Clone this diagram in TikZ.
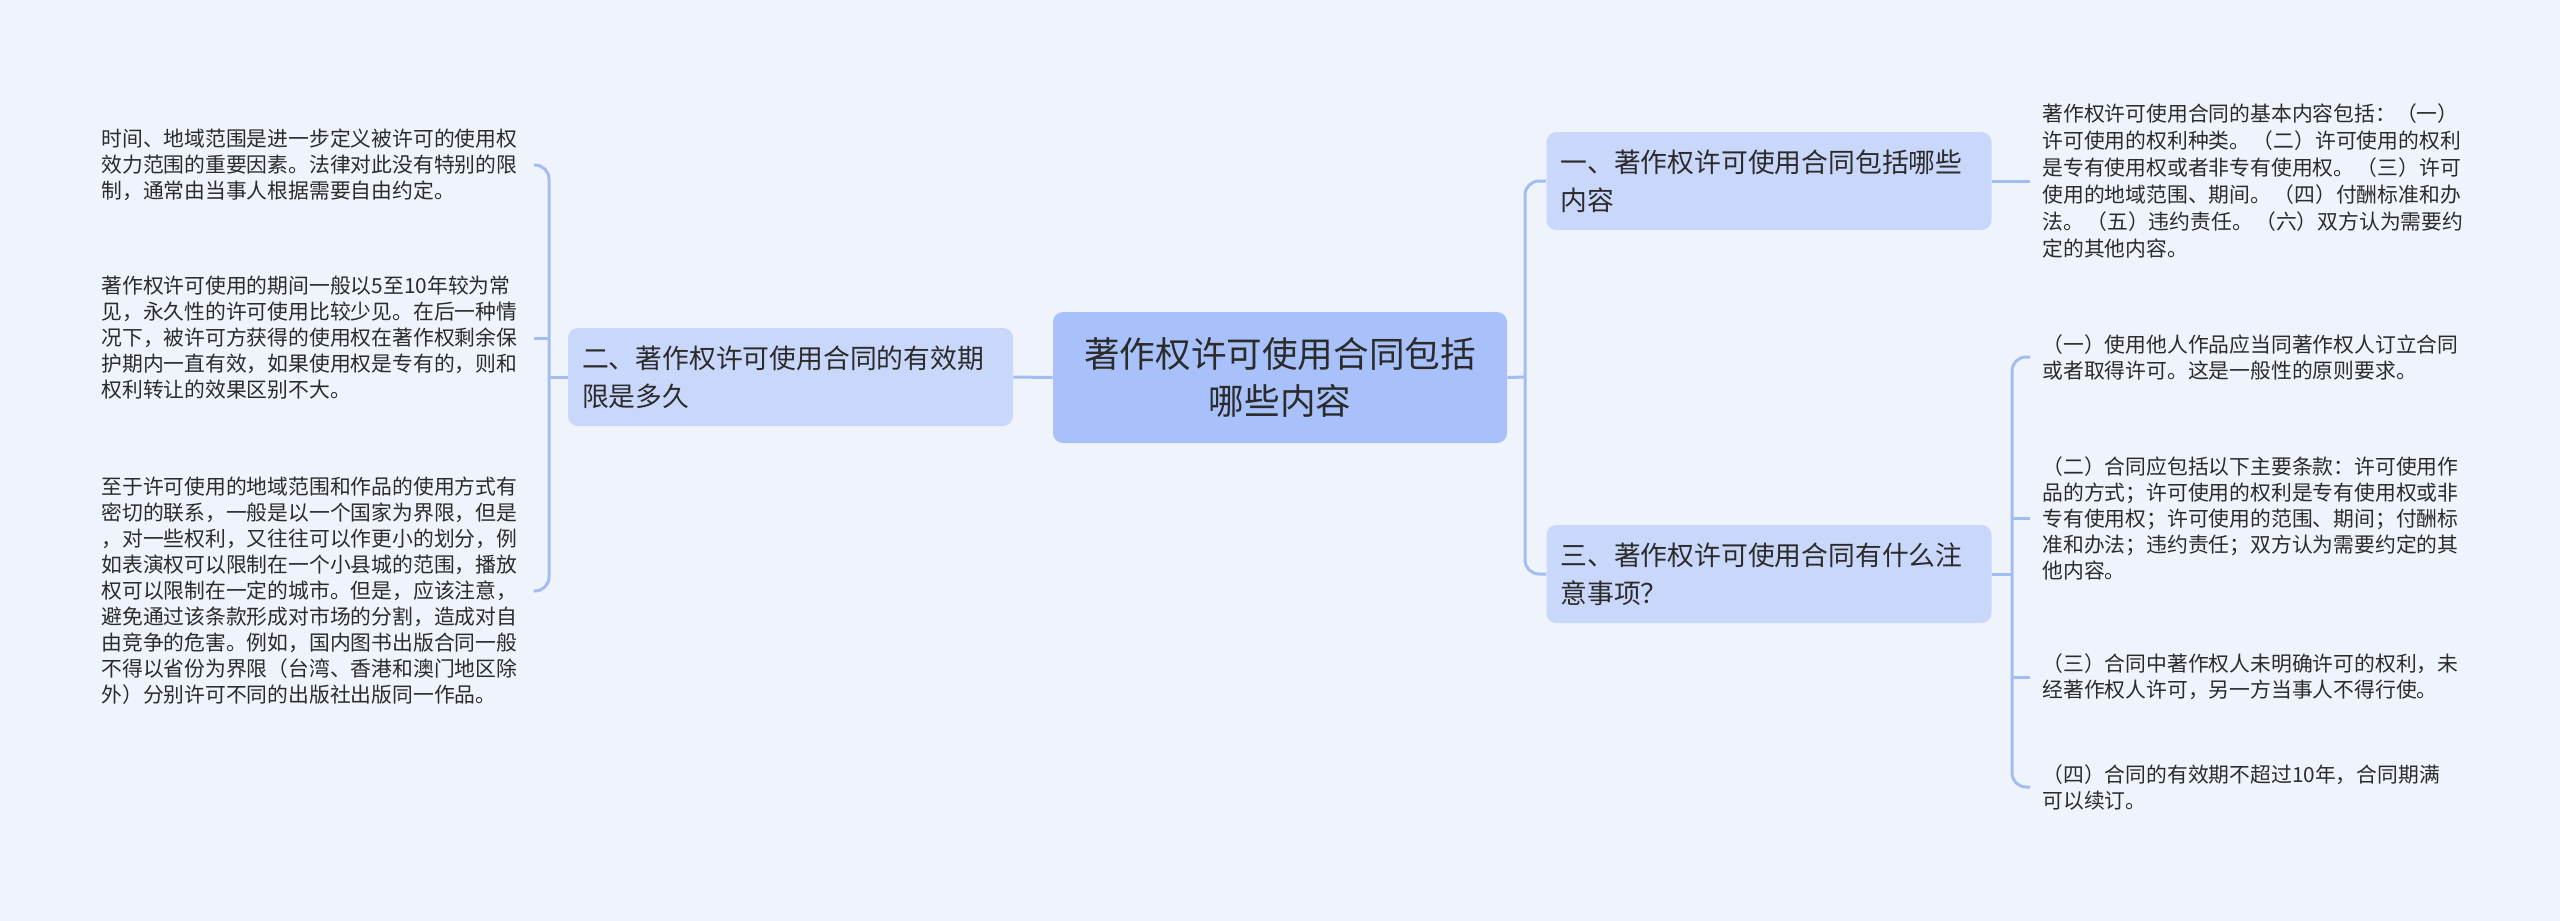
\documentclass[tikz,border=0pt]{standalone}
\usepackage{fontspec}
\setmainfont{Noto Sans CJK SC}
\definecolor{bg}{HTML}{EFF3FC}
\definecolor{cfill}{HTML}{A8C1FA}
\definecolor{bfill}{HTML}{C9D8FA}
\definecolor{lnk}{HTML}{A3BCF2}
\definecolor{txt}{HTML}{2B2B2B}
\newcommand{\gp}{\kern1.2pt}
\tikzset{
  centerbox/.style={fill=cfill, rounded corners=5pt, minimum width=227pt, minimum height=65.5pt,
    align=center, inner sep=0pt, text=txt, font=\fontsize{17.8}{23.5}\selectfont},
  branchbox/.style={fill=bfill, rounded corners=5pt, text width=208.5pt, inner xsep=7pt, inner ysep=0pt,
    minimum height=49pt, align=left, text=txt, font=\fontsize{13.4}{19}\selectfont},
  leftleaf/.style={anchor=west, text width=208pt, inner xsep=8pt, inner ysep=0pt, align=left,
    text=txt, font=\fontsize{10.4}{13}\selectfont},
  rightleaf/.style={anchor=west, text width=240pt, inner xsep=6pt, inner ysep=0pt, align=left,
    text=txt, font=\fontsize{10.4}{13}\selectfont},
  conn/.style={draw=lnk, line width=1.5pt},
  bus/.style={conn, rounded corners=7pt}
}
\begin{document}
\begin{tikzpicture}[x=0.5pt,y=-0.5pt]
\fill[bg] (0,0) rectangle (2560,921);
\useasboundingbox (0,0) rectangle (2560,921);

\node[centerbox] (c) at (1280,377.5) {著作权许可使用合同包括\\哪些内容};
\node[branchbox] (b2) at (790.5,377) {二、著作权许可使用合同的有效期\\限是多久};
\node[branchbox] (b1) at (1769,181) {一、著作权许可使用合同包括哪些\\内容};
\node[branchbox] (b3) at (1769,574) {三、著作权许可使用合同有什么注\\意事项？};

\node[leftleaf] (l1) at (85,165) {时间、地域范围是进一步定义被许可的使用权\\效力范围的重要因素。法律对此没有特别的限\\制，通常由当事人根据需要自由约定。};
\node[leftleaf] (l2) at (85,338) {著作权许可使用的期间一般以5至10年较为常\\见，永久性的许可使用比较少见。在后一种情\\况下，被许可方获得的使用权在著作权剩余保\\护期内一直有效，如果使用权是专有的，则和\\权利转让的效果区别不大。};
\node[leftleaf] (l3) at (85,591) {至于许可使用的地域范围和作品的使用方式有\\密切的联系，一般是以一个国家为界限，但是\\，对一些权利，又往往可以作更小的划分，例\\如表演权可以限制在一个小县城的范围，播放\\权可以限制在一定的城市。但是，应该注意，\\避免通过该条款形成对市场的分割，造成对自\\由竞争的危害。例如，国内图书出版合同一般\\不得以省份为界限（台湾、香港和澳门地区除\\外）分别许可不同的出版社出版同一作品。};

\node[rightleaf, font=\fontsize{10.4}{13.5}\selectfont] (r1) at (2030,181) {著作权许可使用合同的基本内容包括：（一）\\许可使用的权利种类。\gp（二）许可使用的权利\\是专有使用权或者非专有使用权。\gp（三）许可\\使用的地域范围、期间。\gp（四）付酬标准和办\\法。\gp（五）违约责任。\gp（六）双方认为需要约\\定的其他内容。};
\node[rightleaf] (r2) at (2030,357) {（一）使用他人作品应当同著作权人订立合同\\或者取得许可。这是一般性的原则要求。};
\node[rightleaf] (r3) at (2030,518) {（二）合同应包括以下主要条款：许可使用作\\品的方式；许可使用的权利是专有使用权或非\\专有使用权；许可使用的范围、期间；付酬标\\准和办法；违约责任；双方认为需要约定的其\\他内容。};
\node[rightleaf] (r4) at (2030,677) {（三）合同中著作权人未明确许可的权利，未\\经著作权人许可，另一方当事人不得行使。};
\node[rightleaf] (r5) at (2030,787) {（四）合同的有效期不超过10年，合同期满\\可以续订。};

\coordinate (lbus) at (549,377);
\coordinate (rbus) at (1525,377);
\coordinate (rbus2) at (2012,574);

\draw[conn] (c.west) -- (b2.east);
\draw[conn] (b2.west) -- (lbus);
\draw[bus] (l1.east) -- (l1.east -| lbus) -- (l3.east -| lbus) -- (l3.east);
\draw[conn] (l2.east) -- (l2.east -| lbus);

\draw[conn] (c.east) -- (rbus);
\draw[bus] (b1.west) -- (b1.west -| rbus) -- (b3.west -| rbus) -- (b3.west);
\draw[conn] (b1.east) -- (b1.east -| r1.west);

\draw[conn] (b3.east) -- (rbus2);
\draw[bus] (r2.west) -- (r2.west -| rbus2) -- (r5.west -| rbus2) -- (r5.west);
\draw[conn] (r3.west) -- (r3.west -| rbus2);
\draw[conn] (r4.west) -- (r4.west -| rbus2);
\end{tikzpicture}
\end{document}
